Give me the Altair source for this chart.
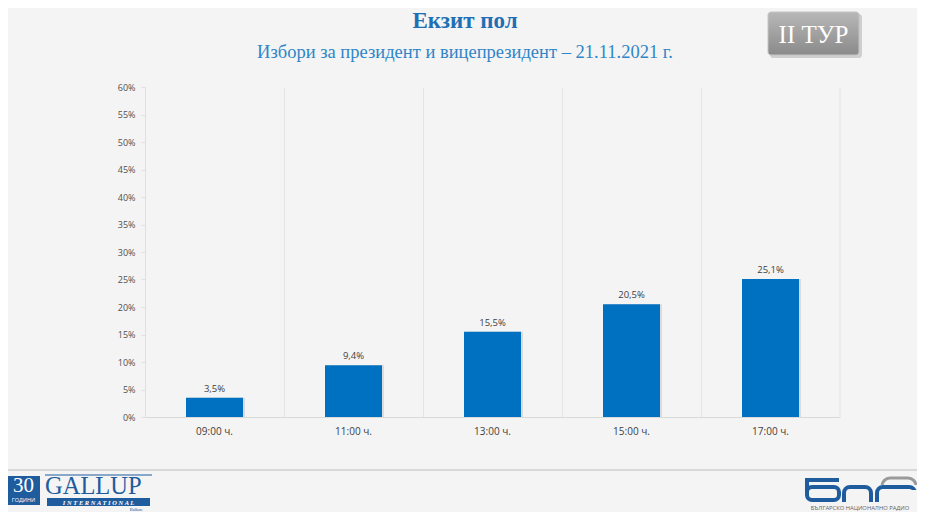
import altair as alt
import pandas as pd

# ---- data ----
categories = ["09:00 ч.", "11:00 ч.", "13:00 ч.", "15:00 ч.", "17:00 ч."]
values = [3.5, 9.4, 15.5, 20.5, 25.1]
labels = ["3,5%", "9,4%", "15,5%", "20,5%", "25,1%"]
y_ticks = [0, 5, 10, 15, 20, 25, 30, 35, 40, 45, 50, 55, 60]

title_text = "Екзит пол"
subtitle_text = "Избори за президент и вицепрезидент – 21.11.2021 г."
badge_text = "II ТУР"

df = pd.DataFrame({"cat": categories, "val": values, "lab": labels})
one = pd.DataFrame({"k": [0]})

W, H = 695, 330
FONT = "Open Sans"
SERIF = "Liberation Serif"
BG = "#f4f4f4"
BLUE = "#1f5c9e"

x_enc = alt.X(
    "cat:N",
    sort=categories,
    title=None,
    scale=alt.Scale(paddingInner=0, paddingOuter=0),
    axis=alt.Axis(
        labelAngle=0,
        labelFont=FONT,
        labelFontSize=10,
        labelColor="#404040",
        labelPadding=9,
        ticks=False,
        grid=True,
        gridColor="#e4e4e4",
        bandPosition=0,
        domainColor="#d9d9d9",
    ),
)
y_enc = alt.Y(
    "val:Q",
    title=None,
    scale=alt.Scale(domain=[0, 60], nice=False),
    axis=alt.Axis(
        values=y_ticks,
        labelExpr="datum.value + '%'",
        labelFont=FONT,
        labelFontSize=9,
        labelColor="#505050",
        labelPadding=6,
        labelOverlap=False,
        grid=False,
        domainColor="#e0e0e0",
        tickColor="#e0e0e0",
        tickSize=4,
    ),
)

shadow = alt.Chart(df).mark_bar(size=57, xOffset=2, color="#8f8f8f", opacity=0.25).encode(x=x_enc, y=y_enc)
bars = alt.Chart(df).mark_bar(size=57, color="#0070c0").encode(x=x_enc, y=y_enc)
text = alt.Chart(df).mark_text(dy=-9, font=FONT, fontSize=9.5, color="#404040").encode(
    x=x_enc, y=y_enc, text="lab:N"
)

right_grid = alt.Chart(one).mark_rule(color="#e4e4e4").encode(
    x=alt.value(W), y=alt.value(0), y2=alt.value(H)
)


def rect(x, x2, y, y2, **kw):
    return alt.Chart(one).mark_rect(**kw).encode(
        x=alt.value(x), x2=alt.value(x2), y=alt.value(y), y2=alt.value(y2)
    )


def label(s, x, y, **kw):
    kw.setdefault("align", "center")
    kw.setdefault("baseline", "middle")
    return alt.Chart(one).mark_text(**kw).encode(x=alt.value(x), y=alt.value(y), text=alt.value(s))


def hline(x, x2, y, **kw):
    return alt.Chart(one).mark_rule(**kw).encode(x=alt.value(x), x2=alt.value(x2), y=alt.value(y))


def vline(x, y, y2, **kw):
    return alt.Chart(one).mark_rule(**kw).encode(x=alt.value(x), y=alt.value(y), y2=alt.value(y2))


# ---- header ----
title = label(title_text, 320, -66, font=SERIF, fontSize=23, fontWeight="bold", color="#1f6fb5")
subtitle = label(subtitle_text, 320, -35, font=SERIF, fontSize=18.5, color="#2f86c8")

badge_grad = alt.Gradient(
    gradient="linear",
    stops=[alt.GradientStop(color="#b8b8b8", offset=0), alt.GradientStop(color="#8a8a8a", offset=1)],
    x1=0, y1=0, x2=0, y2=1,
)
badge_shadow = rect(625, 717, -73, -29, color="#cfcfcf", cornerRadius=3)
badge = rect(623, 714, -75, -32, color=badge_grad, cornerRadius=3, stroke="#c4c4c4")
badge_txt = label(badge_text, 668.5, -52, font=SERIF, fontSize=25, color="white")

# ---- footer ----
foot_line = hline(-140, 775, 383, color="#cfcfcf", strokeWidth=1.5)

# Gallup logo
g30_box = rect(-138, -105, 389, 418, color=BLUE)
g30_txt = label("30", -121.5, 399, font=SERIF, fontSize=21, color="white")
g30_sub = label("ГОДИНИ", -121.5, 413, font=FONT, fontSize=5.5, color="white")
g_top = hline(-100, 7, 388, color=BLUE, strokeWidth=1)
gallup = label("GALLUP", -100, 406.5, font=SERIF, fontSize=24.5, color=BLUE, align="left",
               baseline="alphabetic")
gi_box = rect(-98, 5, 411, 419, color=BLUE)
gi_txt = label("I N T E R N A T I O N A L", -46.5, 415.5, font=SERIF, fontSize=6.5, fontStyle="italic",
               fontWeight="bold", color="white")
gb_txt = label("Balkan", -9, 422.5, font=SERIF, fontSize=4.5, color=BLUE)

# BNR logo (stylised)
arc_gray = rect(737, 771, 391, 414, filled=False, stroke="#9a9a9a", strokeWidth=3, cornerRadius=8)
arc_cover = rect(730, 776, 398, 430, color=BG)
b_top = hline(660, 694, 393, color=BLUE, strokeWidth=4)
b_left = vline(662, 391, 408, color=BLUE, strokeWidth=4)
b_loop = rect(662, 694, 400, 413, filled=False, stroke=BLUE, strokeWidth=4, cornerRadius=5)
n_arch = rect(699, 726, 400, 422, filled=False, stroke=BLUE, strokeWidth=4, cornerRadius=6)
r_arch = rect(732, 770, 400, 422, filled=False, stroke=BLUE, strokeWidth=4, cornerRadius=6)
r_cover = rect(740, 775, 403, 430, color=BG)
nr_cover = rect(690, 776, 415, 430, color=BG)
bnr_sub = label("БЪЛГАРСКО НАЦИОНАЛНО РАДИО", 715, 421, font=FONT, fontSize=5.8, color="#606060")

chart = alt.layer(
    shadow, bars, text, right_grid,
    title, subtitle, badge_shadow, badge, badge_txt,
    foot_line, g30_box, g30_txt, g30_sub, g_top, gallup, gi_box, gi_txt, gb_txt,
    arc_gray, arc_cover, b_top, b_left, b_loop, n_arch, r_arch, r_cover, nr_cover, bnr_sub,
).properties(
    width=W,
    height=H,
    autosize=alt.AutoSizeParams(type="none"),
    padding={"left": 137, "top": 79, "right": 77, "bottom": 95},
    background=BG,
).configure_view(stroke=None)

chart.save("out.html", embed_options={"renderer": "svg", "actions": False})
